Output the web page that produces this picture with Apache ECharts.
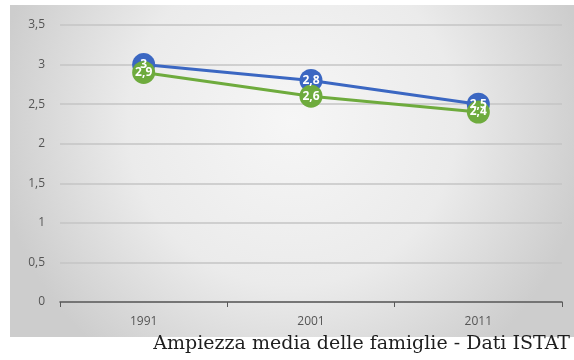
<!DOCTYPE html>
<html>
<head>
<meta charset="utf-8">
<script src="https://cdn.jsdelivr.net/npm/echarts@6/dist/echarts.min.js"></script>
<style>
  html, body { margin: 0; padding: 0; background: #fff; }
  #chart { width: 574px; height: 360px; }
</style>
</head>
<body>
<div id="chart"></div>
<script>
// Census years and average household size
const years = ['1991', '2001', '2011'];
const serieA = [3, 2.8, 2.5];
const serieB = [2.9, 2.6, 2.4];
const yTicks = [0, 0.5, 1, 1.5, 2, 2.5, 3, 3.5];
const caption = 'Ampiezza media delle famiglie - Dati ISTAT';

const fmt = v => String(v).replace('.', ',');

const chart = echarts.init(document.getElementById('chart'), null, { renderer: 'canvas' });

function series(name, data, color) {
  return {
    name: name,
    type: 'line',
    data: data,
    symbol: 'circle',
    symbolSize: 23,
    lineStyle: { color: color, width: 3 },
    itemStyle: { color: color },
    label: {
      show: true,
      position: 'inside',
      color: '#fff',
      fontFamily: 'Open Sans',
      fontSize: 12,
      fontWeight: 'bold',
      formatter: p => fmt(p.value)
    },
    emphasis: { disabled: true },
    animation: false
  };
}

chart.setOption({
  animation: false,
  graphic: [
    {
      type: 'rect',
      left: 10, top: 5,
      shape: { width: 564, height: 332 },
      style: {
        fill: {
          type: 'radial', x: 0.5, y: 0.35, r: 0.9,
          colorStops: [
            { offset: 0, color: '#f6f6f6' },
            { offset: 0.55, color: '#ebebeb' },
            { offset: 1, color: '#cdcdcd' }
          ]
        }
      },
      z: -10
    },
    {
      type: 'text',
      right: 4, top: 335,
      style: {
        text: caption,
        fontFamily: 'DejaVu Serif',
        fontSize: 19,
        fill: '#1e1e1e'
      }
    }
  ],
  grid: { left: 60, right: 12, top: 25, bottom: 58 },
  xAxis: {
    type: 'category',
    data: years,
    boundaryGap: true,
    axisLine: { lineStyle: { color: '#595959', width: 1.5 } },
    axisTick: { show: true, length: 5, alignWithLabel: false, lineStyle: { color: '#595959' } },
    axisLabel: { color: '#555', fontFamily: 'Open Sans', fontSize: 12, margin: 14 },
    splitLine: { show: false }
  },
  yAxis: {
    type: 'value',
    min: yTicks[0],
    max: yTicks[yTicks.length - 1],
    interval: 0.5,
    axisLine: { show: false },
    axisTick: { show: false },
    axisLabel: { color: '#555', fontFamily: 'Open Sans', fontSize: 12, margin: 15, formatter: v => fmt(v) },
    splitLine: { lineStyle: { color: '#c4c4c4', width: 1.5 } }
  },
  series: [
    series('A', serieA, '#3b67c2'),
    series('B', serieB, '#6eab3d')
  ]
});
</script>
</body>
</html>
